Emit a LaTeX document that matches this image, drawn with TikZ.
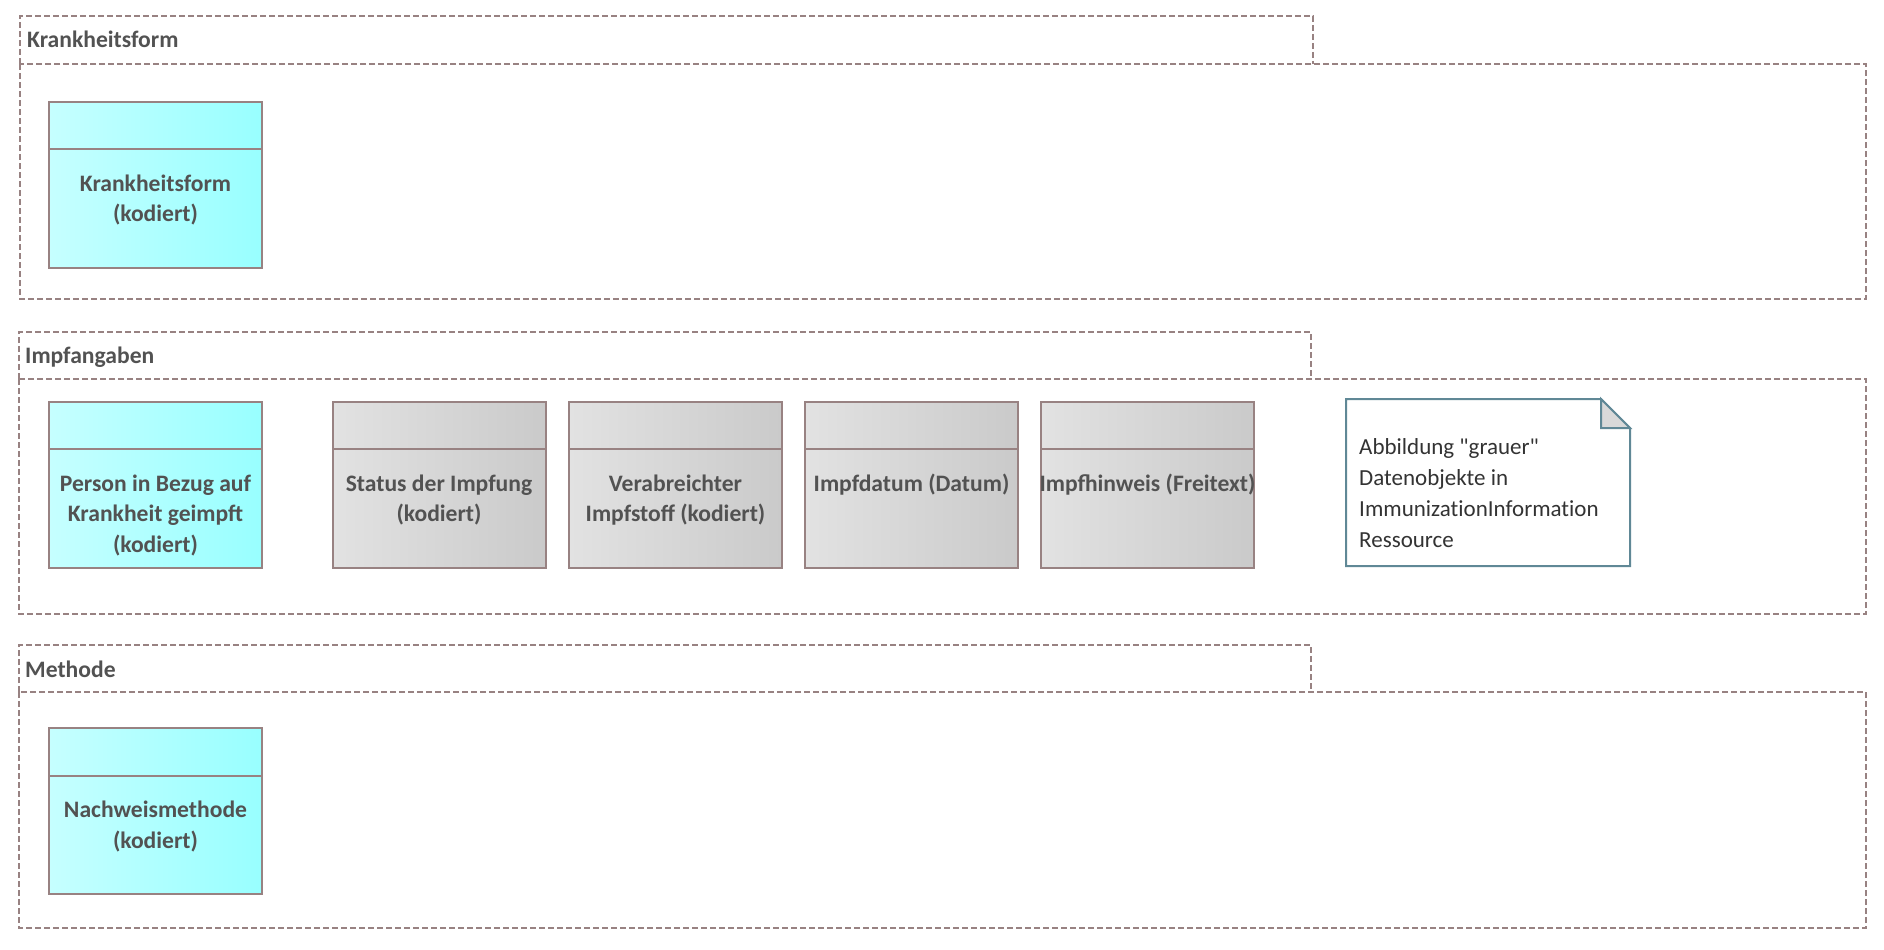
\documentclass[tikz,border=0pt]{standalone}
\usepackage{fontspec}
\setmainfont{Carlito}
\newfontfamily\plainfont{Carlito}[Ligatures={TeXOff,CommonOff}]
\definecolor{bord}{RGB}{152,130,130}
\definecolor{txt}{RGB}{82,82,82}
\definecolor{cyanL}{RGB}{198,255,255}
\definecolor{cyanR}{RGB}{152,255,255}
\definecolor{grayL}{RGB}{226,226,226}
\definecolor{grayR}{RGB}{202,202,202}
\definecolor{noteb}{RGB}{96,136,150}
\definecolor{notef}{RGB}{217,217,217}
\definecolor{notet}{RGB}{51,51,51}
\tikzset{
  pkg/.style={draw=bord, line width=1.6pt, dash pattern=on 6pt off 3pt},
  pkglabel/.style={anchor=base west, inner sep=0, font=\fontsize{23.6}{30.5}\selectfont\bfseries, text=txt},
  clsbox/.style={draw=bord, line width=2pt, anchor=north west, minimum width=213pt, minimum height=166pt, inner sep=0, outer sep=0},
  cyanbox/.style={clsbox, left color=cyanL, right color=cyanR},
  graybox/.style={clsbox, left color=grayL, right color=grayR},
  divider/.style={draw=bord, line width=2pt},
  clstext/.style={anchor=base, inner sep=0, align=center, font=\fontsize{23.6}{30.5}\selectfont\bfseries, text=txt},
  notebox/.style={draw=noteb, line width=2pt, fill=white},
  notefold/.style={draw=noteb, line width=2pt, fill=notef, line join=miter},
  notetext/.style={anchor=base west, inner sep=0, align=left, font=\plainfont\fontsize{23}{30.7}\selectfont, text=notet},
}
\begin{document}
\begin{tikzpicture}[x=1pt,y=-1pt]
\useasboundingbox (0,0) rectangle (1884,950);
% Package 1
\draw[pkg] (20,64) -- (20,16) -- (1313,16) -- (1313,64);
\draw[pkg] (20,64) rectangle (1866,299);
\node[pkglabel] (p1) at (27,48) {Krankheitsform};
% Package 2
\draw[pkg] (19,379) -- (19,332) -- (1311,332) -- (1311,379);
\draw[pkg] (19,379) rectangle (1866,614);
\node[pkglabel] (p2) at (25,363) {Impfangaben};
% Package 3
\draw[pkg] (19,692) -- (19,645) -- (1311,645) -- (1311,692);
\draw[pkg] (19,692) rectangle (1866,928);
\node[pkglabel] (p3) at (25,677) {Methode};

% Classes
\node[cyanbox] (c1) at (49,101.5) {};
\node[cyanbox] (c2) at (49,401.5) {};
\node[graybox] (c3) at (332.5,401.5) {};
\node[graybox] (c4) at (569,401.5) {};
\node[graybox] (c5) at (805,401.5) {};
\node[graybox] (c6) at (1041,401.5) {};
\node[cyanbox] (c7) at (49,728) {};
\foreach \c in {c1,c2,c3,c4,c5,c6,c7}{
  \draw[divider] ([yshift=-47.5pt]\c.north west) -- ([yshift=-47.5pt]\c.north east);
}
% base anchor = baseline of the last line
\node[clstext] (t1) at ([yshift=-120pt]c1.north) {Krankheitsform\\(kodiert)};
\node[clstext] (t2) at ([yshift=-150.5pt]c2.north) {Person in Bezug auf\\Krankheit geimpft\\(kodiert)};
\node[clstext] (t3) at ([yshift=-120pt]c3.north) {Status der Impfung\\(kodiert)};
\node[clstext] (t4) at ([yshift=-120pt]c4.north) {Verabreichter\\Impfstoff (kodiert)};
\node[clstext] (t5) at ([yshift=-89.5pt]c5.north) {Impfdatum (Datum)};
\node[clstext] (t6) at ([yshift=-89.5pt]c6.north) {Impfhinweis (Freitext)};
\node[clstext] (t7) at ([yshift=-120pt]c7.north) {Nachweismethode\\(kodiert)};

% Note
\draw[notebox] (1346,399) -- (1601,399) -- (1630,428) -- (1630,566) -- (1346,566) -- cycle;
\draw[notefold] (1601,399) -- (1630,428) -- (1601,428) -- cycle;
\node[notetext] (n1) at (1359,547) {Abbildung "grauer"\\Datenobjekte in\\ImmunizationInformation\\Ressource};
\end{tikzpicture}
\end{document}
